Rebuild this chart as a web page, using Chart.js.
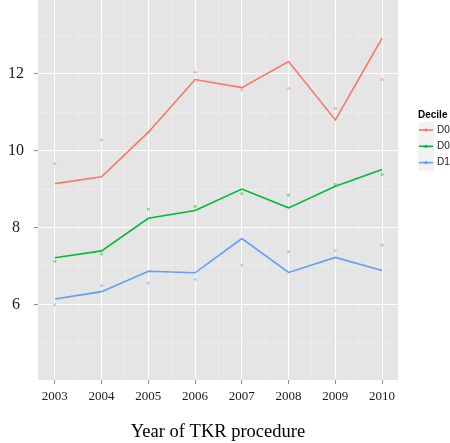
<!DOCTYPE html>
<html><head><meta charset="utf-8">
<script src="https://cdn.jsdelivr.net/npm/chart.js@4.4.0/dist/chart.umd.min.js"></script>
<style>html,body{margin:0;padding:0;background:#fff;}canvas{display:block}</style>
</head><body>
<canvas id="c" width="450" height="443"></canvas>
<script>
const years = [2003, 2004, 2005, 2006, 2007, 2008, 2009, 2010];
const seriesNames = ['D01', 'D05', 'D10'];
const d01Fit = [9.14, 9.32, 10.48, 11.85, 11.64, 12.32, 10.80, 12.93];
const d05Fit = [7.21, 7.39, 8.24, 8.44, 9.00, 8.51, 9.07, 9.51];
const d10Fit = [6.14, 6.33, 6.86, 6.82, 7.71, 6.83, 7.22, 6.88];
const d01Obs = [9.66, 10.28, 10.48, 12.04, 11.58, 11.62, 11.10, 11.85];
const d05Obs = [7.12, 7.31, 8.48, 8.55, 8.88, 8.84, 9.12, 9.38];
const d10Obs = [5.99, 6.49, 6.55, 6.65, 7.02, 7.37, 7.40, 7.54];
const yTickLabels = [6, 8, 10, 12];
const xTickLabels = years;
const legendTitle = 'Decile';
const xTitle = 'Year of TKR procedure';
const colors = ['#F8766D', '#00BA38', '#619CFF'];
const obsColors = ['rgba(248,118,109,0.45)', 'rgba(0,186,56,0.45)', 'rgba(97,156,255,0.45)'];

const fits = [d01Fit, d05Fit, d10Fit];
const obs = [d01Obs, d05Obs, d10Obs];
const toXY = arr => arr.map((v, i) => ({x: years[i], y: v}));

const datasets = [];
fits.forEach((f, i) => datasets.push({
  type: 'line', label: seriesNames[i], data: toXY(f),
  borderColor: colors[i], borderWidth: 1.6, pointRadius: 0, tension: 0, fill: false
}));
obs.forEach((o, i) => datasets.push({
  type: 'scatter', label: seriesNames[i] + ' obs', data: toXY(o),
  backgroundColor: obsColors[i], borderWidth: 0, pointRadius: 1.6
}));

const bgPlugin = {
  id: 'bg',
  beforeDraw(chart) {
    const {ctx, chartArea: a} = chart;
    ctx.save(); ctx.fillStyle = '#E5E5E5';
    ctx.fillRect(a.left, a.top, a.right - a.left, a.bottom - a.top);
    ctx.restore();
  }
};
const legendPlugin = {
  id: 'ggLegend',
  afterDraw(chart) {
    const ctx = chart.ctx;
    ctx.save();
    ctx.fillStyle = '#000';
    ctx.font = 'bold 10px "Liberation Sans", Arial, sans-serif';
    ctx.textBaseline = 'middle'; ctx.textAlign = 'left';
    ctx.fillText(legendTitle, 418, 115);
    seriesNames.forEach((n, i) => {
      const cy = 130 + i * 16.3;
      ctx.fillStyle = '#F2F2F2';
      ctx.fillRect(418, cy - 8, 16, 16);
      ctx.strokeStyle = colors[i]; ctx.lineWidth = 1.6;
      ctx.beginPath(); ctx.moveTo(419, cy); ctx.lineTo(433, cy); ctx.stroke();
      ctx.fillStyle = colors[i];
      ctx.beginPath(); ctx.arc(426, cy, 1.6, 0, Math.PI * 2); ctx.fill();
      ctx.fillStyle = '#1a1a1a';
      ctx.font = '10px "Liberation Sans", Arial, sans-serif';
      ctx.fillText(n, 437, cy);
    });
    ctx.restore();
  }
};

new Chart(document.getElementById('c'), {
  data: {datasets},
  options: {
    responsive: false, animation: false, devicePixelRatio: 1,
    layout: {autoPadding: false, padding: {top: 0, right: 52, bottom: 0, left: 0}},
    plugins: {legend: {display: false}, tooltip: {enabled: false}},
    scales: {
      x: {
        type: 'linear', min: 2002.64, max: 2010.34,
        afterBuildTicks: s => { s.ticks = []; for (let v = 2003; v <= 2010; v += 0.5) s.ticks.push({value: v}); },
        afterFit: s => { s.height = 63; s.paddingLeft = 0; s.paddingRight = 0; },
        border: {display: false},
        grid: {
          color: c => Number.isInteger(c.tick.value) ? '#FFFFFF' : '#F0F0F0',
          lineWidth: c => Number.isInteger(c.tick.value) ? 1.1 : 0.6,
          tickColor: c => Number.isInteger(c.tick.value) ? '#888888' : 'rgba(0,0,0,0)',
          tickLength: 4, tickWidth: 1
        },
        ticks: {
          autoSkip: false, maxRotation: 0, padding: 5, color: '#1a1a1a',
          font: {family: '"Liberation Serif", "Times New Roman", serif', size: 13},
          callback: v => xTickLabels.includes(v) ? String(v) : ''
        },
        title: {
          display: true, text: xTitle, color: '#000',
          font: {family: '"Liberation Serif", "Times New Roman", serif', size: 18.5},
          padding: {top: 0, bottom: 0}
        }
      },
      y: {
        type: 'linear', min: 4.03, max: 13.92,
        afterBuildTicks: s => { s.ticks = []; for (let v = 5; v <= 13; v += 1) s.ticks.push({value: v}); },
        afterFit: s => { s.width = 38; s.paddingTop = 0; s.paddingBottom = 0; },
        border: {display: false},
        grid: {
          color: c => c.tick.value % 2 === 0 ? '#FFFFFF' : '#F0F0F0',
          lineWidth: c => c.tick.value % 2 === 0 ? 1.1 : 0.6,
          tickColor: c => c.tick.value % 2 === 0 ? '#888888' : 'rgba(0,0,0,0)',
          tickLength: 4, tickWidth: 1
        },
        ticks: {
          autoSkip: false, padding: 10, crossAlign: 'center', color: '#1a1a1a',
          font: {family: '"Liberation Serif", "Times New Roman", serif', size: 16},
          callback: v => yTickLabels.includes(v) ? String(v) : ''
        }
      }
    }
  },
  plugins: [bgPlugin, legendPlugin]
});
</script>
</body></html>
